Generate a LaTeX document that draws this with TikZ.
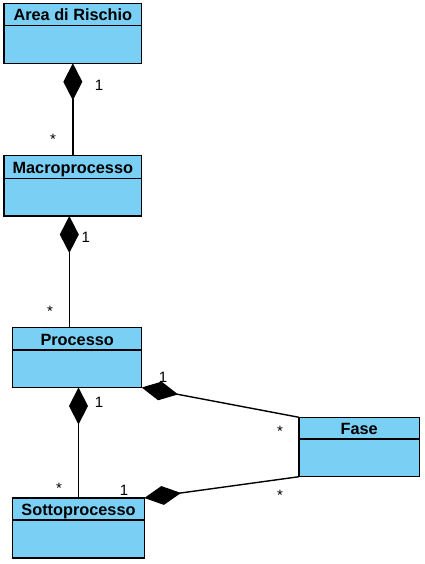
\documentclass[tikz,border=0pt]{standalone}
\usepackage{fontspec}
\setmainfont{Liberation Sans}
\usepackage{xcolor}
\usetikzlibrary{
    arrows.meta,
    calc,
    positioning
}
\definecolor{classblue}{RGB}{122,207,245}
\tikzset{
    classbox/.style={draw, fill=classblue, line width=1.3pt, inner sep=0pt, outer sep=0pt, anchor=north west},
    classtitle/.style={font=\fontsize{16.3}{19}\bfseries\selectfont, inner sep=0pt, anchor=base},
    compose/.style={{Diamond[length=37pt, width=19pt]}-, line width=1.4pt},
    mult/.style={font=\fontsize{15}{17}\selectfont, inner sep=0pt, anchor=base}
}
\newcommand{\umlclass}[6]{
    \node[classbox, minimum width=#3pt, minimum height=#4pt] (#1) at (#2) {};
    \draw[line width=1.3pt] ($(#1.north west) + (0, #5)$) -- ($(#1.north east) + (0, #5)$);
    \node[classtitle] (#1-title) at ($(#1.north) + (0, #5 - 5)$) {#6};
}

\begin{document}
\begin{tikzpicture}[x=1pt, y=-1pt]
    \useasboundingbox (0, 0) rectangle (425, 564);
    \umlclass{area}{4, 3.3}{137.7}{60}{22.4}{Area di Rischio}
    \umlclass{macro}{4, 155.5}{137.7}{60.5}{22.8}{Macroprocesso}
    \umlclass{proc}{12.7, 327.5}{129}{60}{22.5}{Processo}
    \umlclass{sotto}{12.7, 498}{131.6}{60}{22}{Sottoprocesso}
    \umlclass{fase}{299, 417.3}{120.3}{59.4}{21.7}{Fase}
    \coordinate (mpx) at (69.3, 0);
    \draw[compose] (area.south) -- (macro.north);
    \draw[compose] (macro.south -| mpx) -- (proc.north -| mpx);
    \draw[compose] (proc.south -| sotto.north) -- (sotto.north);
    \draw[compose] (proc.south east) -- (fase.north west);
    \draw[compose] (sotto.north east) -- (fase.south west);
    \node[mult] (one-area) at (99, 90.5) {1};
    \node[mult] (many-macro) at (53, 145) {*};
    \node[mult] (one-macro) at (85.7, 242.5) {1};
    \node[mult] (many-proc) at (50, 316) {*};
    \node[mult] (one-proc) at (99, 407) {1};
    \node[mult] (many-sotto) at (59, 493) {*};
    \node[mult] (one-procfase) at (163, 382) {1};
    \node[mult] (many-fase) at (280, 436) {*};
    \node[mult] (one-sotto) at (124, 495.5) {1};
    \node[mult] (many-fasesotto) at (280, 500.7) {*};
\end{tikzpicture}
\end{document}
